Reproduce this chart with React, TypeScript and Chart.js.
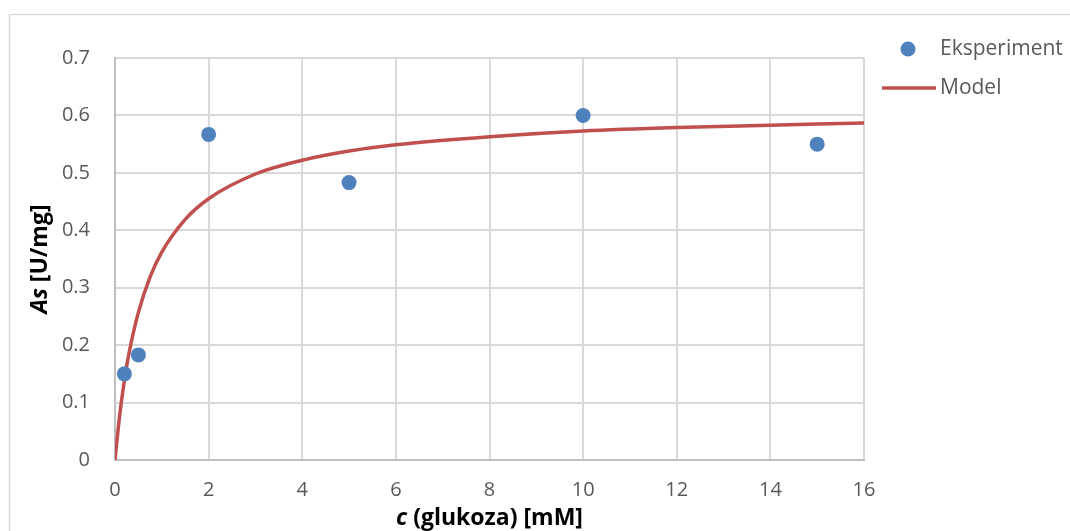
import React, { useEffect, useRef } from "react";
import { Chart, registerables } from "chart.js";

Chart.register(...registerables);

const expC = [0.2, 0.5, 2, 5, 10, 15];
const expAs = [0.15, 0.183, 0.567, 0.483, 0.6, 0.55];

const modelC = [0, 0.1, 0.2, 0.3, 0.5, 0.75, 1, 1.5, 2, 3, 4, 5, 6, 8, 10, 12, 14, 16];
const modelAs = [0, 0.078, 0.138, 0.186, 0.257, 0.319, 0.362, 0.419, 0.455, 0.498, 0.522, 0.538, 0.549, 0.563, 0.573, 0.579, 0.583, 0.587];

const seriesNames = ["Eksperiment", "Model"];
const xTitle = ["c", " (glukoza) [mM]"];
const yTitle = ["As", " [U/mg]"];

const BLUE = "#4F81BD";
const RED = "#C0504D";
const FONT = "'Open Sans', sans-serif";

const decorPlugin = {
  id: "decor",
  beforeDraw(chart: any) {
    const ctx = chart.ctx;
    ctx.save();
    ctx.fillStyle = "#ffffff";
    ctx.fillRect(0, 0, chart.width, chart.height);
    ctx.strokeStyle = "#D9D9D9";
    ctx.lineWidth = 1.5;
    ctx.strokeRect(9.5, 14.5, 1200, 700);
    ctx.restore();
  },
  afterDraw(chart: any) {
    const ctx = chart.ctx;
    const area = chart.chartArea;
    ctx.save();
    // legend
    ctx.fillStyle = BLUE;
    ctx.beginPath();
    ctx.arc(908, 49, 7.5, 0, Math.PI * 2);
    ctx.fill();
    ctx.strokeStyle = RED;
    ctx.lineWidth = 3.5;
    ctx.beginPath();
    ctx.moveTo(882, 88);
    ctx.lineTo(936, 88);
    ctx.stroke();
    ctx.fillStyle = "#595959";
    ctx.font = `21px ${FONT}`;
    ctx.textAlign = "left";
    ctx.textBaseline = "middle";
    ctx.fillText(seriesNames[0], 940, 49);
    ctx.fillText(seriesNames[1], 940, 88);

    // x title
    ctx.fillStyle = "#000000";
    const italic = `italic bold 23px ${FONT}`;
    const bold = `bold 23px ${FONT}`;
    ctx.font = italic;
    const w1 = ctx.measureText(xTitle[0]).width;
    ctx.font = bold;
    const w2 = ctx.measureText(xTitle[1]).width;
    const cx = (area.left + area.right) / 2;
    const sx = cx - (w1 + w2) / 2;
    ctx.textBaseline = "middle";
    ctx.font = italic;
    ctx.fillText(xTitle[0], sx, 518);
    ctx.font = bold;
    ctx.fillText(xTitle[1], sx + w1, 518);

    // y title
    ctx.font = italic;
    const v1 = ctx.measureText(yTitle[0]).width;
    ctx.font = bold;
    const v2 = ctx.measureText(yTitle[1]).width;
    const cy = (area.top + area.bottom) / 2;
    ctx.translate(40, cy);
    ctx.rotate(-Math.PI / 2);
    const sy = -(v1 + v2) / 2;
    ctx.font = italic;
    ctx.fillText(yTitle[0], sy, 0);
    ctx.font = bold;
    ctx.fillText(yTitle[1], sy + v1, 0);
    ctx.restore();
  },
};

export default function App() {
  const ref = useRef<HTMLCanvasElement>(null);
  useEffect(() => {
    const chart = new Chart(ref.current!, {
      type: "scatter",
      data: {
        datasets: [
          {
            label: seriesNames[1],
            data: modelC.map((c, i) => ({ x: c, y: modelAs[i] })),
            showLine: true,
            borderColor: RED,
            borderWidth: 3.5,
            pointRadius: 0,
            cubicInterpolationMode: "monotone",
            order: 2,
          } as any,
          {
            label: seriesNames[0],
            data: expC.map((c, i) => ({ x: c, y: expAs[i] })),
            backgroundColor: BLUE,
            borderColor: BLUE,
            pointRadius: 7.5,
            pointBorderWidth: 0,
            order: 1,
          },
        ],
      },
      options: {
        animation: false,
        responsive: false,
        devicePixelRatio: 1,
        layout: { padding: { top: 58, right: 206, left: 0, bottom: 0 } },
        plugins: { legend: { display: false }, tooltip: { enabled: false } },
        scales: {
          x: {
            type: "linear",
            min: 0,
            max: 16,
            ticks: {
              stepSize: 2,
              color: "#595959",
              font: { family: FONT, size: 20 },
              padding: 18,
            },
            grid: { color: "#D9D9D9", drawTicks: false, lineWidth: 2 },
            border: { color: "#BFBFBF", width: 2 },
            afterFit(scale: any) {
              scale.height = 71;
            },
          },
          y: {
            min: 0,
            max: 0.7,
            ticks: {
              stepSize: 0.1,
              color: "#595959",
              font: { family: FONT, size: 20 },
              padding: 25,
            },
            grid: { color: "#D9D9D9", drawTicks: false, lineWidth: 2 },
            border: { color: "#BFBFBF", width: 2 },
            afterFit(scale: any) {
              scale.width = 115;
            },
          },
        },
      },
      plugins: [decorPlugin],
    });
    return () => chart.destroy();
  }, []);
  return (
    <div style={{ position: "fixed", left: 0, top: 0, width: 1070, height: 531, background: "#fff" }}>
      <canvas ref={ref} width={1070} height={531} />
    </div>
  );
}
